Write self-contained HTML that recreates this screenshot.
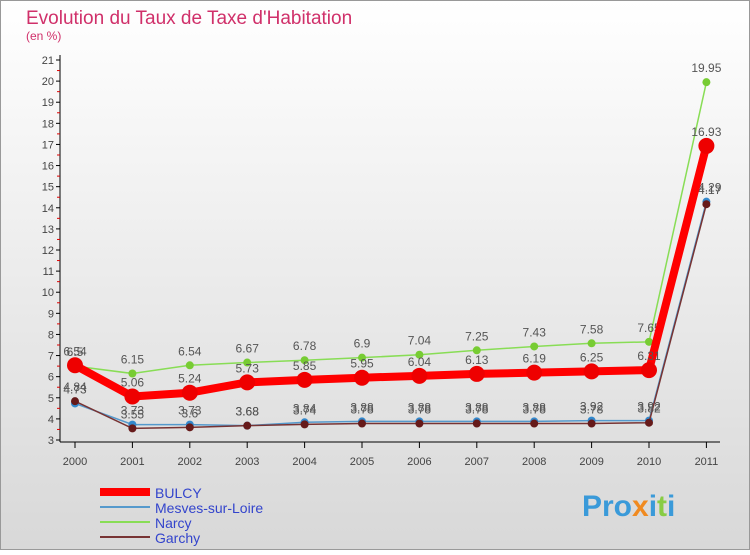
<!DOCTYPE html>
<html><head><meta charset="utf-8">
<style>
body{margin:0;width:750px;height:550px;overflow:hidden;font-family:"Liberation Sans",sans-serif}
svg text{font-family:"Liberation Sans",sans-serif}
</style></head>
<body>
<svg id="chart" width="750" height="550" xmlns="http://www.w3.org/2000/svg">
<defs>
<linearGradient id="bg" x1="0" y1="0" x2="0" y2="1">
<stop offset="0" stop-color="#ffffff"/><stop offset="1" stop-color="#d8d8d8"/>
</linearGradient>
</defs>
<rect x="0.5" y="0.5" width="749" height="549" fill="url(#bg)" stroke="#999"/>
<text x="26" y="24" font-size="19" fill="#d0306a">Evolution du Taux de Taxe d'Habitation</text>
<text x="26" y="40" font-size="12" fill="#d0306a">(en %)</text>
<g id="axes"></g>
<g id="series"></g>
<g id="legend"></g>
<text x="582" y="516" font-size="30" font-weight="bold" fill="#3a9ad9">Pro<tspan fill="#f08a20">x</tspan>i<tspan fill="#88cc44">t</tspan>i</text>
</svg>
<script>
const years=[2000,2001,2002,2003,2004,2005,2006,2007,2008,2009,2010,2011];
const yTicks=[3,4,5,6,7,8,9,10,11,12,13,14,15,16,17,18,19,20,21];
const bulcy=[6.54,5.06,5.24,5.73,5.85,5.95,6.04,6.13,6.19,6.25,6.31,16.93];
const mesves=[4.73,3.73,3.73,3.68,3.84,3.88,3.88,3.88,3.88,3.92,3.92,14.29];
const narcy=[6.5,6.15,6.54,6.67,6.78,6.9,7.04,7.25,7.43,7.58,7.65,19.95];
const garchy=[4.84,3.55,3.6,3.68,3.74,3.78,3.78,3.78,3.78,3.78,3.82,14.17];
const NS="http://www.w3.org/2000/svg";
const X=i=>75+i*57.4;
const Y=v=>440-(v-3)*(380/18);
function mk(t,a,p){const e=document.createElementNS(NS,t);for(const k in a)e.setAttribute(k,a[k]);(p||document.getElementById('series')).appendChild(e);return e;}
const ax=document.getElementById('axes');
let l=mk('line',{x1:60,y1:55,x2:60,y2:442,stroke:'#000'},ax);


l=mk('line',{x1:60,y1:442,x2:720,y2:442,stroke:'#000'},ax);


yTicks.forEach(v=>{
 mk('line',{x1:56,y1:Y(v),x2:60,y2:Y(v),stroke:'#000'},ax);
 if(v<21)mk('line',{x1:57,y1:Y(v+0.5),x2:60,y2:Y(v+0.5),stroke:'#d00'},ax);
 const t=mk('text',{x:54,y:Y(v)+4,'font-size':11,'text-anchor':'end',fill:'#444'},ax);t.textContent=v;
 
 
});
years.forEach((yr,i)=>{
 mk('line',{x1:X(i),y1:442,x2:X(i),y2:448,stroke:'#000'},ax);
 const t=mk('text',{x:X(i),y:465,'font-size':11,'text-anchor':'middle',fill:'#444'},ax);t.textContent=yr;
 
 
});
function series(vals,color,w,r,dot,name){
 const p=mk('polyline',{points:vals.map((v,i)=>X(i)+','+Y(v)).join(' '),fill:'none',stroke:color,'stroke-width':w,'stroke-linejoin':'round'});
 
 
 vals.forEach((v,i)=>{
  const c=mk('circle',{cx:X(i),cy:Y(v),r:r,fill:dot});
  
  
  const t=mk('text',{x:X(i),y:Y(v)-10,'font-size':12,'text-anchor':'middle',fill:'#555'});t.textContent=v;
  
  
 });
}
series(narcy,'#88dd55',1.5,4,'#77cc33','narcy');
series(mesves,'#5599cc',1.5,4,'#3388cc','mesves');
series(garchy,'#773333',1.5,4,'#661a1a','garchy');
series(bulcy,'#ff0000',8,8,'#ee0000','bulcy');
const lg=document.getElementById('legend');
[['BULCY','#ff0000',8],['Mesves-sur-Loire','#5599cc',2],['Narcy','#88dd55',2],['Garchy','#773333',2]].forEach((d,i)=>{
 const y=492+i*15;
 const ln=mk('line',{x1:100,y1:y,x2:150,y2:y,stroke:d[1],'stroke-width':d[2]},lg);
 
 
 const t=mk('text',{x:155,y:y+6,'font-size':14,fill:'#3344cc'},lg);t.textContent=d[0];
 
 
});
</script>
</body></html>
